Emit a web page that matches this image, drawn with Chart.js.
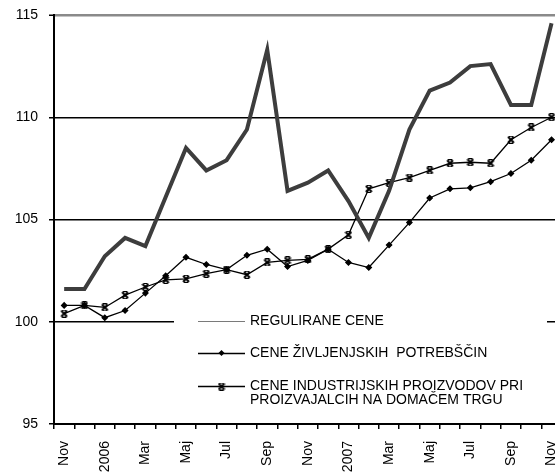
<!DOCTYPE html>
<html>
<head>
<meta charset="utf-8">
<script src="https://cdn.jsdelivr.net/npm/chart.js@4"></script>
<style>
  html, body { margin: 0; padding: 0; overflow: hidden; background: #fff; }
  #wrap { width: 555px; height: 475px; overflow: hidden; position: relative; }
</style>
</head>
<body>
<div id="wrap"><canvas id="ceneChart" width="567" height="475"></canvas></div>
<script>
// Meseci od nov 2005 do nov 2007 (na osi je izpisan vsak drugi)
const meseci = ["Nov", "Dec", "2006", "Feb", "Mar", "Apr", "Maj", "Jun", "Jul", "Avg", "Sep", "Okt",
  "Nov", "Dec", "2007", "Feb", "Mar", "Apr", "Maj", "Jun", "Jul", "Avg", "Sep", "Okt", "Nov"];

const regulirane = [101.6, 101.6, 103.2, 104.1, 103.7, 106.1, 108.5, 107.4, 107.9, 109.4, 113.3, 106.4,
  106.8, 107.4, 105.9, 104.1, 106.4, 109.4, 111.3, 111.7, 112.5, 112.6, 110.6, 110.6, 114.6];

const zivljenjske = [100.8, 100.8, 100.2, 100.55, 101.4, 102.25, 103.15, 102.8, 102.55, 103.25, 103.55, 102.7,
  103.0, 103.55, 102.9, 102.65, 103.75, 104.85, 106.05, 106.5, 106.55, 106.85, 107.25, 107.9, 108.9];

const industrijske = [100.4, 100.8, 100.7, 101.3, 101.7, 102.05, 102.1, 102.35, 102.55, 102.3, 102.9, 103.0,
  103.05, 103.55, 104.25, 106.5, 106.8, 107.05, 107.4, 107.75, 107.8, 107.75, 108.9, 109.5, 110.0];

const yTicks = [95, 100, 105, 110, 115];

const imenaSerij = [
  ["REGULIRANE CENE"],
  ["CENE ŽIVLJENJSKIH  POTREBŠČIN"],
  ["CENE INDUSTRIJSKIH PROIZVODOV PRI", "PROIZVAJALCIH NA DOMAČEM TRGU"]
];

const pisava = "'Liberation Sans', Arial, sans-serif";

// oznaka "x" z majhnima kapicama zgoraj in spodaj
function narediKrizec() {
  const c = document.createElement("canvas");
  c.width = 8; c.height = 8;
  const g = c.getContext("2d");
  g.strokeStyle = "#000";
  g.lineWidth = 2;
  g.beginPath();
  g.moveTo(1, 1); g.lineTo(7, 7);
  g.moveTo(7, 1); g.lineTo(1, 7);
  g.stroke();
  g.lineWidth = 1;
  g.beginPath();
  g.moveTo(2, 0.5); g.lineTo(6, 0.5);
  g.moveTo(2, 7.5); g.lineTo(6, 7.5);
  g.stroke();
  return c;
}
const krizec = narediKrizec();

// legenda v beli skatli znotraj grafa
const legendaPlugin = {
  id: "legendaPlugin",
  afterDatasetsDraw(chart) {
    const ctx = chart.ctx;
    const a = chart.chartArea;
    ctx.save();
    ctx.fillStyle = "#fff";
    ctx.fillRect(a.left + 120, 308, 373, 104);

    const vrste = [321, 353, 386];
    const x1 = 198, x2 = 245, xt = 250;
    ctx.font = "14px " + pisava;
    ctx.fillStyle = "#000";
    ctx.textBaseline = "middle";
    vrste.forEach((y, i) => {
      ctx.beginPath();
      ctx.moveTo(x1, y + 0.5);
      ctx.lineTo(x2, y + 0.5);
      ctx.strokeStyle = i === 0 ? "#7a7a7a" : "#000";
      ctx.lineWidth = i === 0 ? 1 : 1.6;
      ctx.stroke();
      const xm = (x1 + x2) / 2;
      if (i === 1) {
        ctx.beginPath();
        ctx.moveTo(xm, y - 3); ctx.lineTo(xm + 3, y); ctx.lineTo(xm, y + 3); ctx.lineTo(xm - 3, y);
        ctx.closePath();
        ctx.fill();
      } else if (i === 2) {
        ctx.drawImage(krizec, xm - 4, y - 3.5);
      }
      imenaSerij[i].forEach((t, k) => ctx.fillText(t, xt, y + k * 14));
    });
    ctx.restore();
  }
};

new Chart(document.getElementById("ceneChart"), {
  type: "line",
  data: {
    labels: meseci,
    datasets: [
      {
        label: imenaSerij[0].join(" "),
        data: regulirane,
        borderColor: "#3d3d3d",
        borderWidth: 4,
        pointRadius: 0,
        tension: 0
      },
      {
        label: imenaSerij[1].join(" "),
        data: zivljenjske,
        borderColor: "#000",
        backgroundColor: "#000",
        borderWidth: 1.3,
        pointStyle: "rectRot",
        pointRadius: 2.6,
        tension: 0
      },
      {
        label: imenaSerij[2].join(" "),
        data: industrijske,
        borderColor: "#000",
        backgroundColor: "#000",
        borderWidth: 1.3,
        pointStyle: krizec,
        pointRadius: 4,
        tension: 0
      }
    ]
  },
  options: {
    responsive: false,
    animation: false,
    layout: { padding: { top: 15, right: 0, left: 0, bottom: 0 } },
    plugins: { legend: { display: false }, tooltip: { enabled: false } },
    scales: {
      x: {
        offset: true,
        grid: { offset: true, drawOnChartArea: false, tickLength: 5, color: "#000", lineWidth: 1.5 },
        border: { color: "#000", width: 2 },
        ticks: {
          autoSkip: false,
          minRotation: 90,
          maxRotation: 90,
          padding: 12,
          color: "#000",
          font: { family: pisava, size: 14 },
          callback: (v, i) => (i % 2 === 0 ? meseci[i] : "")
        },
        afterFit: s => { s.height = 51; s.paddingRight = 0; s.paddingLeft = 0; }
      },
      y: {
        min: 95,
        max: 115,
        afterBuildTicks: s => { s.ticks = yTicks.map(v => ({ value: v })); },
        ticks: { padding: 11, color: "#000", font: { family: pisava, size: 14 } },
        grid: {
          color: c => (c.tick && c.tick.value === 115 ? "#8a8a8a" : "#000"),
          lineWidth: c => (c.tick && c.tick.value === 115 ? 2.5 : 1.5),
          tickLength: 5,
          tickColor: "#000",
          tickWidth: 1.5
        },
        border: { color: "#000", width: 2 },
        afterFit: s => { s.width = 54; s.paddingTop = 0; s.paddingBottom = 0; }
      }
    }
  },
  plugins: [legendaPlugin]
});
</script>
</body>
</html>
